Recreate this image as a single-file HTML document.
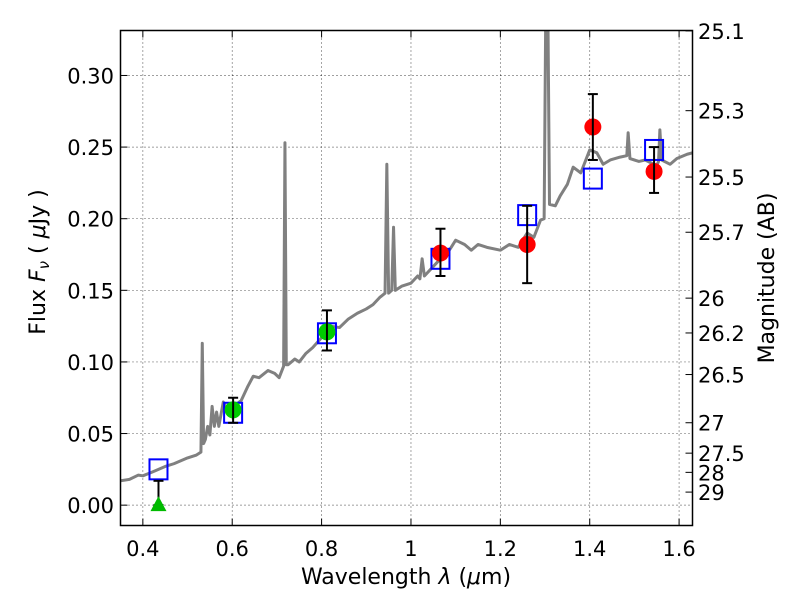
<!DOCTYPE html>
<html><head><meta charset="utf-8"><style>
body{margin:0;background:#fff;}
svg text{font-family:"DejaVu Sans","Liberation Sans",sans-serif;}
</style></head><body>
<svg id="chart" width="800" height="600" xmlns="http://www.w3.org/2000/svg"></svg>
<script>
const specLam=[0.35,0.37,0.39,0.40,0.42,0.45,0.47,0.50,0.52,0.53,0.533,0.536,0.54,0.545,0.55,0.555,0.56,0.565,0.57,0.58,0.59,0.60,0.62,0.635,0.647,0.66,0.68,0.695,0.705,0.715,0.718,0.721,0.725,0.74,0.75,0.765,0.78,0.80,0.82,0.84,0.86,0.88,0.90,0.915,0.93,0.942,0.946,0.95,0.957,0.961,0.965,0.98,1.0,1.015,1.02,1.025,1.03,1.045,1.06,1.075,1.09,1.10,1.12,1.135,1.15,1.17,1.2,1.22,1.24,1.26,1.275,1.29,1.298,1.302,1.306,1.31,1.323,1.334,1.35,1.363,1.38,1.40,1.416,1.43,1.446,1.468,1.483,1.486,1.49,1.51,1.524,1.55,1.554,1.557,1.561,1.58,1.595,1.618,1.63];
const specFlux=[0.017,0.018,0.021,0.0205,0.023,0.027,0.029,0.033,0.035,0.037,0.113,0.043,0.046,0.055,0.049,0.069,0.055,0.065,0.055,0.072,0.066,0.068,0.073,0.083,0.09,0.089,0.094,0.092,0.089,0.097,0.253,0.098,0.098,0.102,0.1,0.106,0.11,0.117,0.125,0.124,0.13,0.134,0.137,0.14,0.145,0.148,0.238,0.148,0.15,0.194,0.15,0.153,0.155,0.16,0.158,0.172,0.16,0.165,0.17,0.173,0.18,0.185,0.182,0.178,0.182,0.18,0.178,0.182,0.18,0.19,0.187,0.199,0.2,0.36,0.36,0.21,0.209,0.216,0.224,0.236,0.232,0.248,0.246,0.238,0.241,0.243,0.244,0.26,0.242,0.24,0.241,0.237,0.24,0.262,0.241,0.238,0.242,0.245,0.246];
const modelLam=[0.435,0.602,0.812,1.066,1.26,1.407,1.544];
const modelFlux=[0.025,0.0645,0.120,0.172,0.2025,0.228,0.248];
const redLam=[1.066,1.26,1.407,1.544];
const redFlux=[0.176,0.182,0.264,0.233];
const redLo=[0.160,0.155,0.241,0.218];
const redHi=[0.193,0.209,0.287,0.250];
const greenLam=[0.602,0.812];
const greenFlux=[0.0665,0.121];
const greenLo=[0.0575,0.108];
const greenHi=[0.075,0.136];
const limLam=[0.435];
const limFlux=[0.0];
const limHi=[0.017];
const xTicks=[0.4,0.6,0.8,1.0,1.2,1.4,1.6];
const xTickLabels=["0.4","0.6","0.8","1","1.2","1.4","1.6"];
const yTicks=[0,0.05,0.10,0.15,0.20,0.25,0.30];
const yTickLabels=["0.00","0.05","0.10","0.15","0.20","0.25","0.30"];
const magTicks=[25.1,25.3,25.5,25.7,26,26.2,26.5,27,27.5,28,29];
const magLabels=["25.1","25.3","25.5","25.7","26","26.2","26.5","27","27.5","28","29"];

const L=120.5,R=692.5,T=30.5,B=525.5;
const X0=0.35,X1=1.63,Y0=-0.0142,Y1=0.3314;
const sx=v=>L+(v-X0)/(X1-X0)*(R-L);
const sy=v=>B-(v-Y0)/(Y1-Y0)*(B-T);
const svg=document.getElementById('chart');
const NS='http://www.w3.org/2000/svg';
function mk(tag,attrs,parent){const e=document.createElementNS(NS,tag);for(const k in attrs)e.setAttribute(k,attrs[k]);(parent||svg).appendChild(e);return e;}

const defs=mk('defs',{});const cp=mk('clipPath',{id:'clip'},defs);mk('rect',{x:L,y:T,width:R-L,height:B-T},cp);
const grid=mk('g',{});


xTicks.forEach(v=>{mk('line',{x1:sx(v),x2:sx(v),y1:T,y2:B,stroke:'#000','stroke-width':0.7,'stroke-dasharray':'1,3'},grid);});
yTicks.forEach(v=>{mk('line',{x1:L,x2:R,y1:sy(v),y2:sy(v),stroke:'#000','stroke-width':0.7,'stroke-dasharray':'1,3'},grid);});

const sp=mk('polyline',{points:specLam.map((l,i)=>sx(l)+','+sy(specFlux[i])).join(' '),fill:'none',stroke:'#808080','stroke-width':3,'clip-path':'url(#clip)','stroke-linejoin':'round'});



function errbar(lam,lo,hi,name){
  const g=mk('g',{});
  
  
  const x=sx(lam);
  mk('line',{x1:x,x2:x,y1:sy(lo),y2:sy(hi),stroke:'#000','stroke-width':2},g);
  mk('line',{x1:x-5,x2:x+5,y1:sy(lo),y2:sy(lo),stroke:'#000','stroke-width':2},g);
  mk('line',{x1:x-5,x2:x+5,y1:sy(hi),y2:sy(hi),stroke:'#000','stroke-width':2},g);
}
modelLam.forEach((l,i)=>{
  const r=mk('rect',{x:sx(l)-9,y:sy(modelFlux[i])-10,width:18,height:20,fill:'none',stroke:'#0000ff','stroke-width':2});
  
  
});
limLam.forEach((l,i)=>{
  errbar(l,limFlux[i],limHi[i],'limit-error-bar');
  const x=sx(l),y=sy(limFlux[i]);
  const t=mk('polygon',{points:`${x},${y-9} ${x-8},${y+6} ${x+8},${y+6}`,fill:'#00bb00'});
  
  
});
greenLam.forEach((l,i)=>{
  const c=mk('circle',{cx:sx(l),cy:sy(greenFlux[i]),r:8.5,fill:'#00cc00'});
  
  
  errbar(l,greenLo[i],greenHi[i],'green-error-bar');
});
redLam.forEach((l,i)=>{
  const c=mk('circle',{cx:sx(l),cy:sy(redFlux[i]),r:8.5,fill:'#ff0000'});
  
  
  errbar(l,redLo[i],redHi[i],'red-error-bar');
});

const fr=mk('rect',{x:L,y:T,width:R-L,height:B-T,fill:'none',stroke:'#000','stroke-width':1.5});


xTicks.forEach((v,i)=>{
  const x=sx(v);
  mk('line',{x1:x,x2:x,y1:B,y2:B-7,stroke:'#000'});
  mk('line',{x1:x,x2:x,y1:T,y2:T+7,stroke:'#000'});
  const t=mk('text',{x:x,y:556,'font-size':21,'text-anchor':'middle'});t.textContent=xTickLabels[i];
  
  
});
yTicks.forEach((v,i)=>{
  const y=sy(v);
  mk('line',{x1:L,x2:L+7,y1:y,y2:y,stroke:'#000'});
  const t=mk('text',{x:114,y:y+8,'font-size':21,'text-anchor':'end'});t.textContent=yTickLabels[i];
  
  
});
magTicks.forEach((m,i)=>{
  const y=sy(Math.pow(10,(23.9-m)/2.5));
  mk('line',{x1:R,x2:R-7,y1:y,y2:y,stroke:'#000'});
  const t=mk('text',{x:698,y:y+8,'font-size':21});t.textContent=magLabels[i];
  
  
});
</script>
<svg style="position:absolute;left:0;top:0" width="800" height="600" xmlns="http://www.w3.org/2000/svg">
<text x="406" y="584" font-size="22" text-anchor="middle" font-family="DejaVu Sans, sans-serif">Wavelength  <tspan font-style="italic">λ</tspan> (<tspan font-style="italic">μ</tspan>m)</text>
<text transform="translate(45,262) rotate(-90)" font-size="22" text-anchor="middle" font-family="DejaVu Sans, sans-serif">Flux  <tspan font-style="italic">F</tspan><tspan font-style="italic" font-size="15" dy="4">ν</tspan><tspan dy="-4">  (  </tspan><tspan font-style="italic">μ</tspan>Jy )</text>
<text transform="translate(774,278) rotate(-90)" font-size="22" text-anchor="middle" font-family="DejaVu Sans, sans-serif">Magnitude (AB)</text>
</svg>
</body></html>
